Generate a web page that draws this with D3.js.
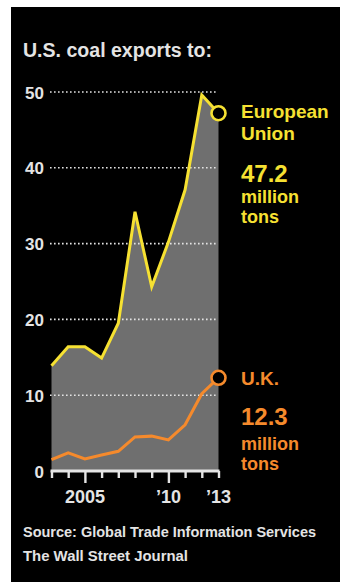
<!DOCTYPE html>
<html lang="en">
<head>
  <meta charset="UTF-8">
  <title>U.S. coal exports</title>
  <style>
    body { margin: 0; background: #fff; }
    svg { display: block; }
    text { font-family: "Liberation Sans", Arial, sans-serif; font-weight: 700; }
  </style>
</head>
<body>
  <svg id="chart" width="340" height="582"></svg>

  <script src="https://d3js.org/d3.v7.min.js"></script>
  <script>
    // data (million tons)
    const years = [2003, 2004, 2005, 2006, 2007, 2008, 2009, 2010, 2011, 2012, 2013];
    const euValues = [13.9, 16.4, 16.4, 14.9, 19.5, 34.2, 24.3, 30.2, 37.1, 49.6, 47.2];
    const ukValues = [1.5, 2.4, 1.6, 2.1, 2.6, 4.5, 4.6, 4.1, 6.1, 10.2, 12.3];
    const yTicks = [0, 10, 20, 30, 40, 50];
    const labelYears = [2005, 2010, 2013];
    const labelTexts = ["2005", "\u201910", "\u201913"];

    const yellow = "#f6e132";
    const orange = "#f58a2c";
    const grey = "#6f6f6f";
    const light = "#e4e4e4";

    const svg = d3.select("#chart");

    svg.append("rect")
      .attr("x", 11).attr("y", 7)
      .attr("width", 340 - 11).attr("height", 582 - 7)
      .attr("fill", "#000");

    const x = d3.scaleLinear().domain([2003, 2013]).range([51.5, 218.5]);
    const y = d3.scaleLinear().domain([0, 50]).range([471, 92]);

    const eu = years.map((yr, i) => ({ year: yr, value: euValues[i] }));
    const uk = years.map((yr, i) => ({ year: yr, value: ukValues[i] }));

    // grey area under the EU line
    svg.append("path")
      .datum(eu)
      .attr("fill", grey)
      .attr("d", d3.area().x(d => x(d.year)).y0(y(0)).y1(d => y(d.value)));

    // dotted gridlines
    svg.append("g")
      .selectAll("line")
      .data(yTicks.filter(t => t > 0))
      .join("line")
      .attr("x1", 50).attr("x2", 218)
      .attr("y1", d => y(d)).attr("y2", d => y(d))
      .attr("stroke", light)
      .attr("stroke-width", 1.6)
      .attr("stroke-dasharray", "1.6,2.4");

    // y labels
    const yAxis = svg.append("g")
      .attr("transform", "translate(48,0)")
      .call(d3.axisLeft(y).tickValues(yTicks).tickSize(0).tickPadding(4));
    yAxis.select(".domain").remove();
    yAxis.selectAll("text")
      .attr("fill", light)
      .attr("dy", "0.36em")
      .style("font-size", "17px")
      .style("font-family", "\"Liberation Sans\", Arial, sans-serif")
      .style("font-weight", 700);

    const line = d3.line().x(d => x(d.year)).y(d => y(d.value));

    svg.append("path")
      .datum(eu)
      .attr("fill", "none")
      .attr("stroke", yellow)
      .attr("stroke-width", 3)
      .attr("d", line);

    svg.append("path")
      .datum(uk)
      .attr("fill", "none")
      .attr("stroke", orange)
      .attr("stroke-width", 3)
      .attr("d", line);

    // x axis
    const xAxis = svg.append("g")
      .attr("transform", `translate(0,${y(0)})`)
      .call(d3.axisBottom(x).tickValues(years).tickSize(7).tickSizeOuter(0).tickFormat(""));
    xAxis.select(".domain")
      .attr("stroke", light)
      .attr("stroke-width", 3)
      .attr("d", `M${x(2003) - 1},0H${x(2013) + 1}`);
    xAxis.selectAll(".tick line")
      .attr("stroke", light)
      .attr("stroke-width", 2.4)
      .attr("y2", d => (d === 2005 || d === 2010) ? 12 : 7);

    svg.append("g")
      .selectAll("text")
      .data(labelYears)
      .join("text")
      .attr("x", d => x(d))
      .attr("y", 503)
      .attr("text-anchor", "middle")
      .attr("fill", light)
      .style("font-size", "18px")
      .text((d, i) => labelTexts[i]);

    // end markers
    const ends = [
      { d: eu[eu.length - 1], color: yellow },
      { d: uk[uk.length - 1], color: orange }
    ];
    svg.append("g")
      .selectAll("circle")
      .data(ends)
      .join("circle")
      .attr("cx", e => x(e.d.year))
      .attr("cy", e => y(e.d.value))
      .attr("r", 7)
      .attr("fill", "#000")
      .attr("stroke", e => e.color)
      .attr("stroke-width", 2.6);

    // annotations
    function label(lines, color) {
      lines.forEach(l => {
        svg.append("text")
          .attr("x", 241)
          .attr("y", l.y)
          .attr("fill", color)
          .style("font-size", l.size + "px")
          .text(l.t);
      });
    }
    label([
      { t: "European", y: 118, size: 19 },
      { t: "Union", y: 140, size: 19 },
      { t: "47.2", y: 181.5, size: 24 },
      { t: "million", y: 203, size: 18 },
      { t: "tons", y: 223, size: 18 }
    ], yellow);
    label([
      { t: "U.K.", y: 385, size: 19 },
      { t: "12.3", y: 425, size: 24 },
      { t: "million", y: 449.5, size: 18 },
      { t: "tons", y: 470, size: 18 }
    ], orange);

    // title and source
    svg.append("text")
      .attr("x", 23).attr("y", 57)
      .attr("fill", light)
      .attr("textLength", 189)
      .attr("lengthAdjust", "spacingAndGlyphs")
      .style("font-size", "20px")
      .text("U.S. coal exports to:");

    svg.append("text")
      .attr("x", 23).attr("y", 537)
      .attr("fill", light)
      .attr("textLength", 293)
      .attr("lengthAdjust", "spacingAndGlyphs")
      .style("font-size", "15px")
      .text("Source: Global Trade Information Services");

    svg.append("text")
      .attr("x", 23).attr("y", 561)
      .attr("fill", light)
      .attr("textLength", 165)
      .attr("lengthAdjust", "spacingAndGlyphs")
      .style("font-size", "15px")
      .text("The Wall Street Journal");
  </script>
</body>
</html>
